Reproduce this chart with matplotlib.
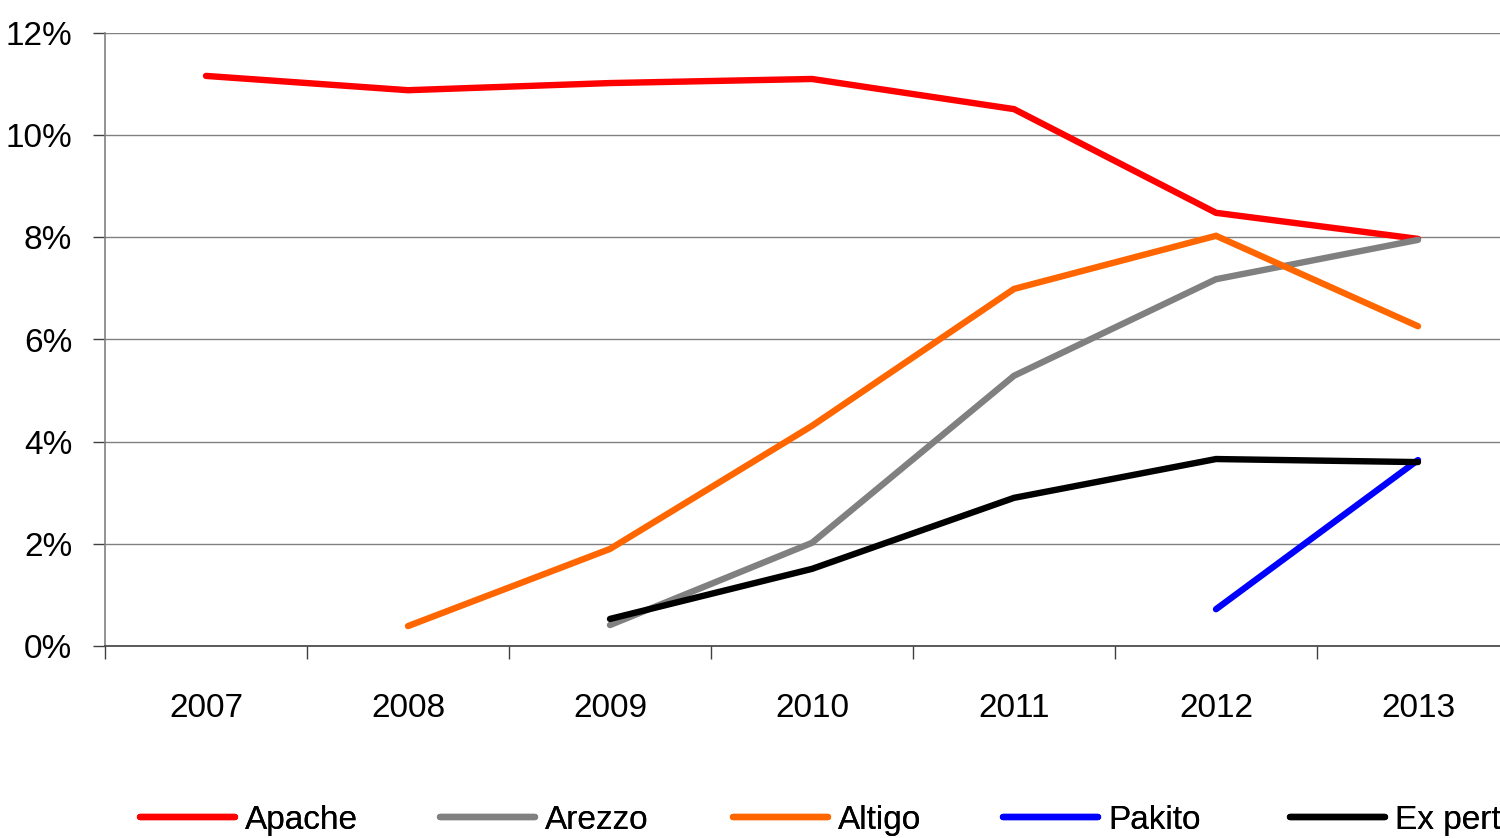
import matplotlib
matplotlib.use("Agg")
import matplotlib.pyplot as plt
import numpy as np
from matplotlib import font_manager

years = ["2007", "2008", "2009", "2010", "2011", "2012", "2013"]
apache = [11.16, 10.88, 11.02, 11.10, 10.51, 8.48, 7.97]
arezzo = [None, None, 0.41, 2.02, 5.29, 7.18, 7.95]
altigo = [None, 0.39, 1.90, 4.31, 6.99, 8.03, 6.26]
pakito = [None, None, None, None, None, 0.72, 3.64]
expert = [None, None, 0.53, 1.51, 2.90, 3.66, 3.60]

series = [("Apache", apache, "#FF0000"),
          ("Arezzo", arezzo, "#808080"),
          ("Altigo", altigo, "#FF6600"),
          ("Pakito", pakito, "#0000FF"),
          ("Ex pert", expert, "#000000")]

names = {f.name for f in font_manager.fontManager.ttflist}
fam = "Liberation Sans Narrow" if "Liberation Sans Narrow" in names else "Liberation Sans"
plt.rcParams["font.family"] = [fam, "DejaVu Sans"]
fs = 24

fig = plt.figure(figsize=(15, 8.38), dpi=100)
ax = fig.add_axes([105/1500, 192/838, 1414/1500, 613/838])

x = np.arange(len(years))
handles = []
for name, vals, col in series:
    xs = [xi for xi, v in zip(x, vals) if v is not None]
    ys = [v for v in vals if v is not None]
    h, = ax.plot(xs, ys, color=col, lw=4.6, solid_capstyle="round",
                 solid_joinstyle="miter", label=name)
    handles.append(h)

ax.set_xlim(-0.5, 6.5)
ax.set_ylim(0, 12)
ax.set_yticks(np.arange(0, 13, 2))
ax.set_yticklabels([f"{v}%" for v in range(0, 13, 2)], fontsize=fs)
ax.set_xticks(x)
ax.set_xticklabels(years, fontsize=fs)
ax.set_xticks(np.arange(-0.5, 6.6, 1), minor=True)
ax.tick_params(axis="x", which="major", length=0, pad=34)
ax.tick_params(axis="x", which="minor", length=9, width=1, color="#404040")
ax.tick_params(axis="y", length=9, width=1, color="#404040", pad=14.5)
ax.grid(axis="y", color="#808080", lw=1)
ax.set_axisbelow(True)
for s in ["top", "right"]:
    ax.spines[s].set_visible(False)
ax.spines["left"].set_color("#808080")
ax.spines["bottom"].set_color("#404040")
ax.spines["left"].set_linewidth(1.2)
ax.spines["bottom"].set_linewidth(1.2)

leg_x = [140, 440, 733, 1003, 1290]
for h, lx in zip(handles, leg_x):
    lg = fig.legend(handles=[h], loc="center left",
                    bbox_to_anchor=(lx/1500, 18/838), frameon=False,
                    fontsize=fs, handlelength=95/33.3, handletextpad=0.3,
                    borderpad=0, borderaxespad=0)
    fig.add_artist(lg)

fig.savefig("out.png", dpi=100)
